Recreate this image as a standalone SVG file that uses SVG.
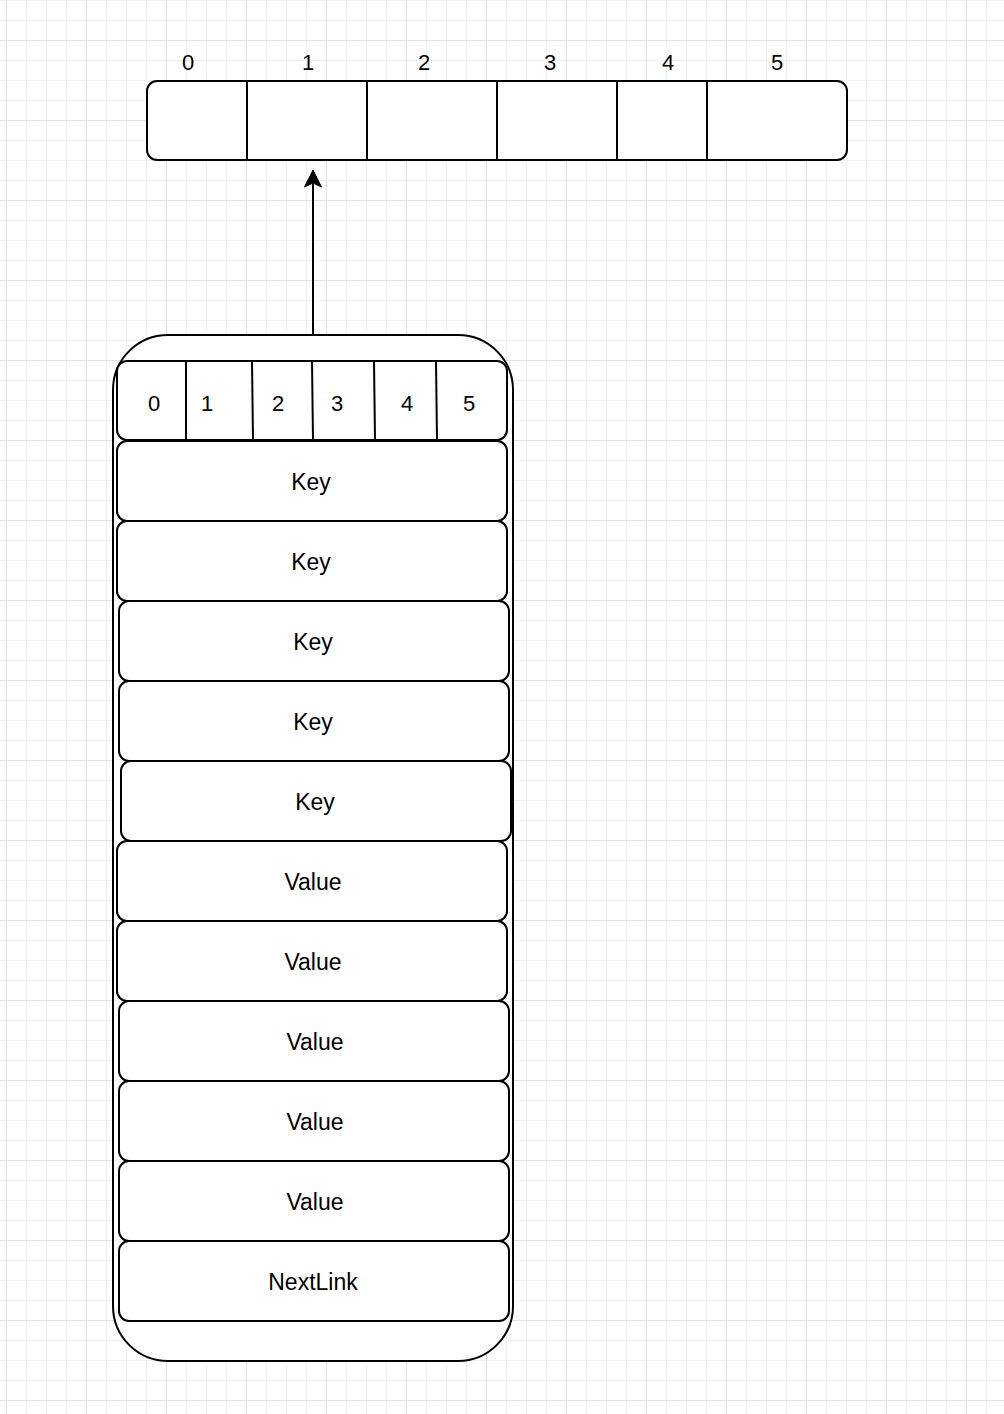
<svg xmlns="http://www.w3.org/2000/svg" width="1004" height="1414" viewBox="0 0 1004 1414">
<style>
.box{fill:#fff;stroke:#000;stroke-width:2}
.ln{fill:none;stroke:#000;stroke-width:2}
text{font-family:"Liberation Sans",Arial,sans-serif;font-size:23px;fill:#000;text-anchor:middle}
.idx{font-size:22px}
</style>
<defs>
<pattern id="minor" width="20" height="20" x="6" y="0" patternUnits="userSpaceOnUse">
<path d="M0.5,0V20M0,0.5H20" stroke="#f0f0f0" stroke-width="1" fill="none"/>
</pattern>
<pattern id="major" width="80" height="80" x="6" y="40" patternUnits="userSpaceOnUse">
<path d="M0.5,0V80M0,0.5H80" stroke="#e2e2e2" stroke-width="1" fill="none"/>
</pattern>
</defs>
<rect width="1004" height="1414" fill="#fff"/>
<rect width="1004" height="1414" fill="url(#minor)"/>
<rect width="1004" height="1414" fill="url(#major)"/>

<g id="array">
<rect class="box" x="147" y="81" width="700" height="79" rx="10"/>
<path class="ln" d="M247,81V160M367,81V160M497,81V160M617,81V160M707,81V160"/>
<text class="idx" x="188" y="70">0</text>
<text class="idx" x="308" y="70">1</text>
<text class="idx" x="424" y="70">2</text>
<text class="idx" x="550" y="70">3</text>
<text class="idx" x="668" y="70">4</text>
<text class="idx" x="777" y="70">5</text>
</g>

<g id="bucket">
<rect class="box" x="113" y="335" width="400" height="1026" rx="55"/>
</g>

<g id="header">
<rect class="box" x="117" y="361" width="390" height="79" rx="10"/>
<path class="ln" d="M186,361V440M252,361L253,440M312,361L313,440M374,361L375,440M436,361L437,440"/>
<text class="idx" x="154" y="411">0</text>
<text class="idx" x="207" y="411">1</text>
<text class="idx" x="278" y="411">2</text>
<text class="idx" x="337" y="411">3</text>
<text class="idx" x="407" y="411">4</text>
<text class="idx" x="469" y="411">5</text>
</g>

<g id="key1"><rect class="box" x="117" y="441" width="390" height="80" rx="10"/><text x="311" y="490">Key</text></g>
<g id="key2"><rect class="box" x="117" y="521" width="390" height="80" rx="10"/><text x="311" y="570">Key</text></g>
<g id="key3"><rect class="box" x="119" y="601" width="390" height="80" rx="10"/><text x="313" y="650">Key</text></g>
<g id="key4"><rect class="box" x="119" y="681" width="390" height="80" rx="10"/><text x="313" y="730">Key</text></g>
<g id="key5"><rect class="box" x="121" y="761" width="390" height="80" rx="10"/><text x="315" y="810">Key</text></g>
<g id="value1"><rect class="box" x="117" y="841" width="390" height="80" rx="10"/><text x="313" y="890">Value</text></g>
<g id="value2"><rect class="box" x="117" y="921" width="390" height="80" rx="10"/><text x="313" y="970">Value</text></g>
<g id="value3"><rect class="box" x="119" y="1001" width="390" height="80" rx="10"/><text x="315" y="1050">Value</text></g>
<g id="value4"><rect class="box" x="119" y="1081" width="390" height="80" rx="10"/><text x="315" y="1130">Value</text></g>
<g id="value5"><rect class="box" x="119" y="1161" width="390" height="80" rx="10"/><text x="315" y="1210">Value</text></g>
<g id="nextlink"><rect class="box" x="119" y="1241" width="390" height="80" rx="10"/><text x="313" y="1290">NextLink</text></g>

<g id="connectors">
<path class="ln" d="M313,335V182"/>
<path d="M313,170L321.5,187L313,183L304.5,187Z" fill="#000" stroke="#000" stroke-width="1"/>
</g>
</svg>
